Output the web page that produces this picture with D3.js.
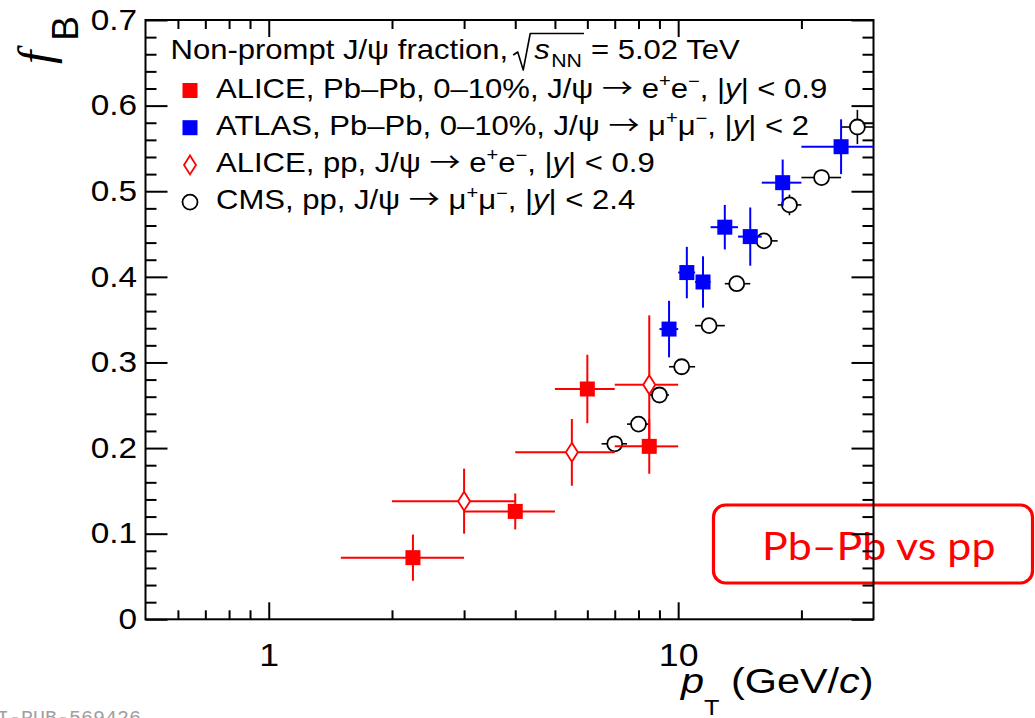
<!DOCTYPE html>
<html>
<head>
<meta charset="utf-8">
<script src="https://cdn.jsdelivr.net/npm/d3@7"></script>
<style>
  html, body { margin: 0; padding: 0; background: #fff; }
  svg { display: block; }
</style>
</head>
<body>
<svg id="chart" width="1035" height="718"></svg>
<script>
// ---------------- data ----------------
// ALICE, Pb–Pb 0–10%, J/psi -> e+e-, |y| < 0.9
const alicePbPbPt  = [2.25, 4.0, 6.0, 8.5];
const alicePbPbLo  = [1.5, 3.0, 5.0, 7.0];
const alicePbPbHi  = [3.0, 5.0, 7.0, 10.0];
const alicePbPbFB  = [0.072, 0.126, 0.269, 0.202];
const alicePbPbErr = [0.027, 0.021, 0.040, 0.032];

// ATLAS, Pb–Pb 0–10%, J/psi -> mu+mu-, |y| < 2
const atlasPt  = [9.5, 10.5, 11.5, 13.0, 15.0, 18.0, 25.0];
const atlasLo  = [9, 10, 11, 12, 14, 16, 20];
const atlasHi  = [10, 11, 12, 14, 16, 20, 30];
const atlasFB  = [0.339, 0.405, 0.394, 0.458, 0.447, 0.510, 0.552];
const atlasErr = [0.033, 0.030, 0.030, 0.026, 0.034, 0.027, 0.032];

// ALICE, pp, J/psi -> e+e-, |y| < 0.9
const alicePpPt  = [3.0, 5.5, 8.5];
const alicePpLo  = [2, 4, 7];
const alicePpHi  = [4, 7, 10];
const alicePpFB  = [0.138, 0.195, 0.274];
const alicePpErr = [0.038, 0.039, 0.081];

// CMS, pp, J/psi -> mu+mu-, |y| < 2.4
const cmsPt  = [7.0, 8.0, 9.0, 10.2, 11.9, 13.9, 16.2, 18.7, 22.4, 27.4];
const cmsLo  = [6.5, 7.5, 8.5, 9.5, 11, 13, 15, 17.5, 20, 25];
const cmsHi  = [7.5, 8.5, 9.5, 11, 13, 15, 17.5, 20, 25, 30];
const cmsFB  = [0.205, 0.228, 0.262, 0.295, 0.343, 0.392, 0.442, 0.484, 0.516, 0.575];
const cmsErr = [0.006, 0.006, 0.007, 0.007, 0.007, 0.008, 0.008, 0.012, 0.008, 0.020];

// axes
const xDomain      = [0.5, 30];
const yDomain      = [0, 0.7];
const xMajorTicks  = [1, 10];
const xTickLabels  = ["1", "10"];
const xMinorTicks  = [0.6, 0.7, 0.8, 0.9, 2, 3, 4, 5, 6, 7, 8, 9, 20];
const yMajorTicks  = [0, 0.1, 0.2, 0.3, 0.4, 0.5, 0.6, 0.7];
const yTickLabels  = ["0", "0.1", "0.2", "0.3", "0.4", "0.5", "0.6", "0.7"];
const yMinorTicks  = [0.02, 0.04, 0.06, 0.08, 0.12, 0.14, 0.16, 0.18, 0.22, 0.24, 0.26, 0.28,
                      0.32, 0.34, 0.36, 0.38, 0.42, 0.44, 0.46, 0.48, 0.52, 0.54, 0.56, 0.58,
                      0.62, 0.64, 0.66, 0.68];

// legend text, as [text, style] segments
const legendTitle = ["Non-prompt J/\u03c8 fraction,", "s", "NN", "= 5.02 TeV"];
const legendLabels = [
  [["ALICE, Pb\u2013Pb, 0\u201310%, J/\u03c8 "], ["\u2192", "arrow"], [" e"], ["+", "sup"], ["e"], ["\u2212", "sup"], [", |"], ["y", "i"], ["| < 0.9"]],
  [["ATLAS, Pb\u2013Pb, 0\u201310%, J/\u03c8 "], ["\u2192", "arrow"], [" \u03bc"], ["+", "sup"], ["\u03bc"], ["\u2212", "sup"], [", |"], ["y", "i"], ["| < 2"]],
  [["ALICE, pp, J/\u03c8 "], ["\u2192", "arrow"], [" e"], ["+", "sup"], ["e"], ["\u2212", "sup"], [", |"], ["y", "i"], ["| < 0.9"]],
  [["CMS, pp, J/\u03c8 "], ["\u2192", "arrow"], [" \u03bc"], ["+", "sup"], ["\u03bc"], ["\u2212", "sup"], [", |"], ["y", "i"], ["| < 2.4"]]
];
const boxLabel = "Pb\u2013Pb vs pp";
const figureId = "I-PUB-569426";

// ---------------- layout ----------------
const FONT = "'Liberation Sans', Arial, Helvetica, sans-serif";
const SX = 1.15;   // horizontal widening of the Helvetica-style lettering
const frame = { left: 145.5, right: 873.5, top: 20, bottom: 619.3 };
const RED = "#ff0000", BLUE = "#0000ff", BLACK = "#000000";

const svg = d3.select("#chart");
svg.append("rect").attr("width", 1035).attr("height", 718).attr("fill", "#fff");

const x = d3.scaleLog().domain(xDomain).range([frame.left, frame.right]);
const y = d3.scaleLinear().domain(yDomain).range([frame.bottom, frame.top]);

// places a text node at (px, py) with the horizontal widening applied
function wideText(parent, px, py, sx = SX) {
  return parent.append("text").attr("transform", `translate(${px},${py}) scale(${sx},1)`);
}

// annotation box (sits behind the frame lines)
const ann = svg.append("g");
ann.append("rect")
  .attr("x", 713.5).attr("y", 505).attr("width", 319).attr("height", 78)
  .attr("rx", 12).attr("ry", 12)
  .attr("fill", "none").attr("stroke", RED).attr("stroke-width", 3.2);
wideText(ann, 762, 560, 1.1)
  .attr("font-family", "Lato, 'Open Sans', sans-serif")
  .attr("font-size", 39).attr("fill", RED)
  .text(boxLabel);

// ---------------- axes ----------------
function styleAxis(g, fontSize) {
  g.select(".domain").remove();
  g.attr("font-family", FONT).attr("font-size", fontSize);
  g.selectAll(".tick line").attr("stroke", BLACK).attr("stroke-width", 2);
  g.selectAll(".tick text").attr("fill", BLACK).attr("transform", `scale(${SX},1)`);
}

svg.append("g").attr("transform", `translate(${frame.left},0)`)
  .call(d3.axisLeft(y).tickValues(yMajorTicks).tickSize(-22).tickPadding(7.3)
    .tickFormat((d, i) => yTickLabels[i]))
  .call(g => styleAxis(g, 29));
svg.append("g").attr("transform", `translate(${frame.left},0)`)
  .call(d3.axisLeft(y).tickValues(yMinorTicks).tickSize(-11).tickFormat(""))
  .call(g => styleAxis(g, 10));
svg.append("g").attr("transform", `translate(${frame.right},0)`)
  .call(d3.axisRight(y).tickValues(yMajorTicks).tickSize(-22).tickFormat(""))
  .call(g => styleAxis(g, 10));
svg.append("g").attr("transform", `translate(${frame.right},0)`)
  .call(d3.axisRight(y).tickValues(yMinorTicks).tickSize(-11).tickFormat(""))
  .call(g => styleAxis(g, 10));

svg.append("g").attr("transform", `translate(0,${frame.bottom})`)
  .call(d3.axisBottom(x).tickValues(xMajorTicks).tickSize(-17).tickPadding(24.5)
    .tickFormat((d, i) => xTickLabels[i]))
  .call(g => styleAxis(g, 31));
svg.append("g").attr("transform", `translate(0,${frame.bottom})`)
  .call(d3.axisBottom(x).tickValues(xMinorTicks).tickSize(-9).tickFormat(""))
  .call(g => styleAxis(g, 10));
svg.append("g").attr("transform", `translate(0,${frame.top})`)
  .call(d3.axisTop(x).tickValues(xMajorTicks).tickSize(-17).tickFormat(""))
  .call(g => styleAxis(g, 10));
svg.append("g").attr("transform", `translate(0,${frame.top})`)
  .call(d3.axisTop(x).tickValues(xMinorTicks).tickSize(-9).tickFormat(""))
  .call(g => styleAxis(g, 10));

// frame
svg.append("rect")
  .attr("x", frame.left).attr("y", frame.top)
  .attr("width", frame.right - frame.left).attr("height", frame.bottom - frame.top)
  .attr("fill", "none").attr("stroke", BLACK).attr("stroke-width", 2);

// axis titles
const yTitle = svg.append("text")
  .attr("transform", "translate(52,64) rotate(-90)")
  .attr("font-family", FONT).attr("fill", BLACK);
yTitle.append("tspan")
  .attr("font-family", "'Liberation Serif', 'DejaVu Serif', serif")
  .attr("font-style", "italic").attr("font-size", 48).text("f");
yTitle.append("tspan").attr("font-size", 37).attr("dx", 10).attr("dy", 26).text("B");

const xTitle = wideText(svg, frame.right, 692.5)
  .attr("text-anchor", "end")
  .attr("font-family", FONT).attr("font-size", 36).attr("fill", BLACK);
xTitle.append("tspan").attr("font-style", "italic").text("p");
xTitle.append("tspan").attr("font-size", 22).attr("dy", 23).text("T");
xTitle.append("tspan").attr("dy", -23).text(" (GeV/");
xTitle.append("tspan").attr("font-style", "italic").text("c");
xTitle.append("tspan").text(")");

// ---------------- markers and error bars ----------------
const MARK = {
  square:  { gx: 0, gy: 0 },
  diamond: { gx: 6, gy: 9.5 },
  circle:  { gx: 7.5, gy: 7.5 }
};

function drawMarker(g, kind, cx, cy, color) {
  if (kind === "square") {
    g.append("rect").attr("x", cx - 7.5).attr("y", cy - 7.5)
      .attr("width", 15).attr("height", 15).attr("fill", color);
  } else if (kind === "diamond") {
    g.append("path")
      .attr("d", `M${cx},${cy - 9.5}L${cx + 6},${cy}L${cx},${cy + 9.5}L${cx - 6},${cy}Z`)
      .attr("fill", "none").attr("stroke", color).attr("stroke-width", 1.8);
  } else {
    g.append("circle").attr("cx", cx).attr("cy", cy).attr("r", 7.5)
      .attr("fill", "none").attr("stroke", color).attr("stroke-width", 1.8);
  }
}

function drawSeries(pt, lo, hi, val, err, kind, color, lineWidth) {
  const g = svg.append("g");
  const gap = MARK[kind];
  pt.forEach((p, i) => {
    const cx = x(p), cy = y(val[i]);
    const segs = [
      [x(lo[i]), cy, cx - gap.gx, cy],
      [cx + gap.gx, cy, x(hi[i]), cy],
      [cx, y(val[i] + err[i]), cx, cy - gap.gy],
      [cx, cy + gap.gy, cx, y(val[i] - err[i])]
    ];
    segs.forEach(([x1, y1, x2, y2]) => {
      if (Math.hypot(x2 - x1, y2 - y1) < 0.5) return;
      if ((x2 - x1) < -0.1 || (y2 - y1) < -0.1) return;
      g.append("line").attr("x1", x1).attr("y1", y1).attr("x2", x2).attr("y2", y2)
        .attr("stroke", color).attr("stroke-width", lineWidth);
    });
    drawMarker(g, kind, cx, cy, color);
  });
}

drawSeries(cmsPt, cmsLo, cmsHi, cmsFB, cmsErr, "circle", BLACK, 1.6);
drawSeries(alicePpPt, alicePpLo, alicePpHi, alicePpFB, alicePpErr, "diamond", RED, 2);
drawSeries(atlasPt, atlasLo, atlasHi, atlasFB, atlasErr, "square", BLUE, 2);
drawSeries(alicePbPbPt, alicePbPbLo, alicePbPbHi, alicePbPbFB, alicePbPbErr, "square", RED, 2);

// ---------------- legend ----------------
const leg = svg.append("g").attr("font-family", FONT).attr("font-size", 27).attr("fill", BLACK);

// title line with the square-root symbol
const titleY = 59.3;
const t0 = wideText(leg, 170.5, titleY).text(legendTitle[0]);
const rx = 170.5 + t0.node().getComputedTextLength() * SX + 5;
const sX = rx + 21;
const sText = wideText(leg, sX, titleY).attr("font-style", "italic").text(legendTitle[1]);
const nnX = sX + sText.node().getComputedTextLength() * SX + 1.5;
const nnText = wideText(leg, nnX, titleY + 7.5).attr("font-size", 18.5).text(legendTitle[2]);
const barEnd = nnX + nnText.node().getComputedTextLength() * SX + 2;
leg.append("path")
  .attr("d", `M${rx},55L${rx + 4.5},52L${rx + 10},70L${rx + 17},33.5L${barEnd},33.5`)
  .attr("fill", "none").attr("stroke", BLACK).attr("stroke-width", 1.6)
  .attr("stroke-linejoin", "round");
wideText(leg, barEnd + 7, titleY).text(legendTitle[3]);

const legendKinds  = ["square", "square", "diamond", "circle"];
const legendColors = [RED, BLUE, RED, BLACK];

legendLabels.forEach((segments, i) => {
  const base = 97.5 + i * 37.2;
  drawMarker(leg, legendKinds[i], 190, base - 7, legendColors[i]);
  const t = wideText(leg, 216, base);
  let shift = 0;
  segments.forEach(([txt, style]) => {
    const sp = t.append("tspan").text(txt);
    let target = 0;
    if (style === "sup") { sp.attr("font-size", 17.5); target = -10.5; }
    if (style === "i") sp.attr("font-style", "italic");
    if (style === "arrow") sp.attr("font-family", "'Noto Sans CJK JP', 'Noto Sans CJK SC', 'DejaVu Sans', sans-serif").attr("font-size", 27);
    if (target !== shift) sp.attr("dy", target - shift);
    shift = target;
  });
});

// figure id in the lower-left corner
svg.append("text")
  .attr("x", -3).attr("y", 723.5)
  .attr("font-family", "'Liberation Mono', 'DejaVu Sans Mono', monospace")
  .attr("font-size", 20).attr("fill", "#a0a0a0")
  .text(figureId);
</script>
</body>
</html>
